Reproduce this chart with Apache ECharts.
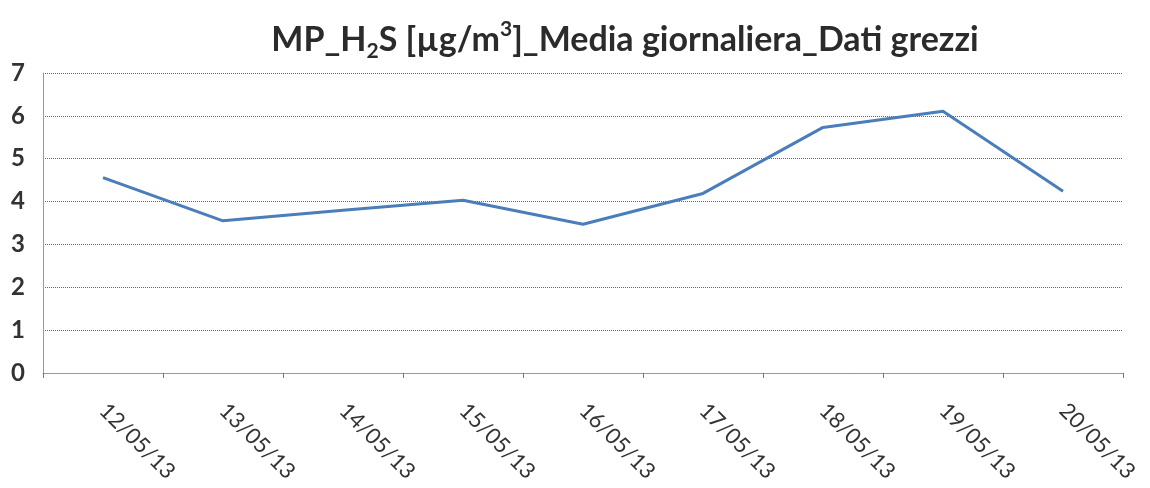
<!DOCTYPE html>
<html>
<head>
<meta charset="utf-8">
<script src="https://cdn.jsdelivr.net/npm/echarts@6/dist/echarts.min.js"></script>
<style>
  html, body { margin: 0; padding: 0; background: #fff; }
  #chart { width: 1150px; height: 488px; }
</style>
</head>
<body>
<div id="chart"></div>
<script>
// dati
const giorni = ['12/05/13', '13/05/13', '14/05/13', '15/05/13', '16/05/13', '17/05/13', '18/05/13', '19/05/13', '20/05/13']
const mediaH2S = [4.56, 3.55, 3.8, 4.03, 3.47, 4.19, 5.73, 6.11, 4.24]
const yTicks = [0, 1, 2, 3, 4, 5, 6, 7]

const myChart = echarts.init(document.getElementById('chart'))

const options = {
  animation: false,
  title: {
    left: 620,
    textAlign: 'center',
    top: 14,
    text: '{a|MP_H}{sub|2}{a|S [µg/m}{sup|3}{a|]_Media giornaliera_Dati grezzi}',
    textStyle: {
      rich: {
        a: { fontFamily: 'Lato', fontWeight: 'bold', fontSize: 34, color: '#2b2b2b' },
        sub: { fontFamily: 'Lato', fontWeight: 'bold', fontSize: 21, color: '#2b2b2b', verticalAlign: 'bottom', padding: [14, 0, 0, 0] },
        sup: { fontFamily: 'Lato', fontWeight: 'bold', fontSize: 21, color: '#2b2b2b', verticalAlign: 'top', padding: [0, 0, 22, 0] }
      }
    }
  },
  grid: {
    left: 43,
    right: 27,
    top: 73,
    bottom: 115
  },
  xAxis: {
    type: 'category',
    data: giorni,
    boundaryGap: true,
    axisLine: { show: true, lineStyle: { color: '#999', width: 1 } },
    axisTick: { show: true, length: 5, lineStyle: { color: '#777' } },
    axisLabel: {
      rotate: -45,
      margin: 34,
      fontFamily: 'Lato',
      fontSize: 22,
      color: '#333'
    },
    splitLine: { show: false }
  },
  yAxis: {
    type: 'value',
    min: yTicks[0],
    max: yTicks[yTicks.length - 1],
    interval: 1,
    axisLine: { show: true, lineStyle: { color: '#999', width: 1 } },
    axisTick: { show: false },
    axisLabel: {
      margin: 18,
      fontFamily: 'Lato',
      fontWeight: 'bold',
      fontSize: 24,
      color: '#333'
    },
    splitLine: {
      show: true,
      lineStyle: { color: '#666', type: 'dotted', width: 1 }
    }
  },
  series: [{
    name: 'MP_H2S',
    type: 'line',
    data: mediaH2S,
    showSymbol: false,
    smooth: false,
    lineStyle: { color: '#4a7ebb', width: 3 },
    itemStyle: { color: '#4a7ebb' }
  }]
}

myChart.setOption(options)
</script>
</body>
</html>
